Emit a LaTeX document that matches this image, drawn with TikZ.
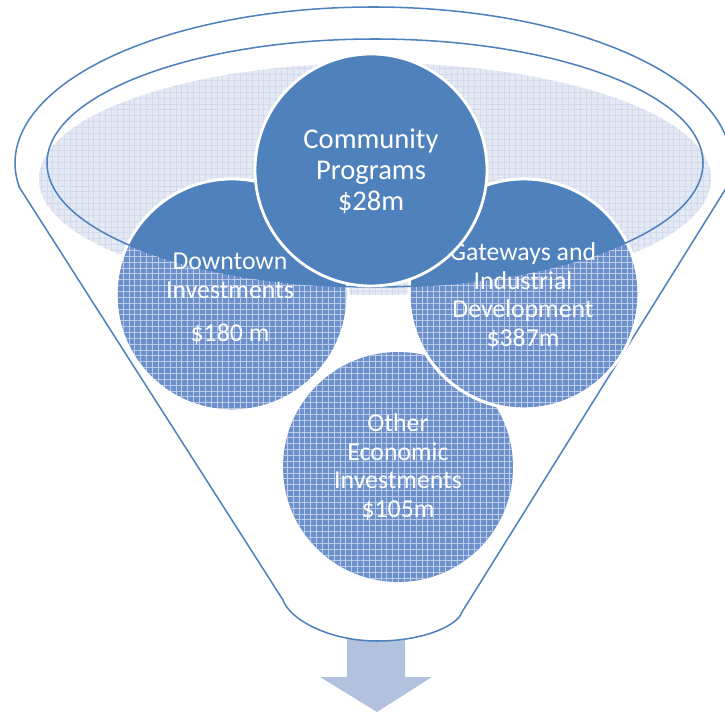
\documentclass[tikz,border=0pt]{standalone}
\usepackage{fontspec}
\setmainfont{Carlito}
\usetikzlibrary{patterns.meta}
\definecolor{frameblue}{RGB}{79,129,189}
\definecolor{darkblue}{RGB}{79,129,189}
\definecolor{meshbase}{RGB}{108,144,204}
\definecolor{washbase}{RGB}{228,233,244}
\definecolor{washline}{RGB}{210,219,237}
\definecolor{arrowblue}{RGB}{178,194,222}

\begin{document}
\begin{tikzpicture}[x=0.03cm, y=-0.03cm,
    rim/.style={draw=frameblue, line width=1.3pt},
    wash/.style={preaction={fill=washbase},
      pattern={Hatch[angle=0,distance=5pt,line width=0.4pt]}, pattern color=washline},
    mesh/.style={preaction={fill=meshbase},
      pattern={Hatch[angle=0,distance=5pt,line width=0.4pt]}, pattern color=white!55!meshbase},
    whiterim/.style={draw=white, line width=2.4pt},
    txt/.style={text=white, align=center, font=\fontsize{22}{24.7}\selectfont}
    ]
\useasboundingbox (0,0) rectangle (725,713);

% arrow out of the funnel
\fill[arrowblue] (347,630) -- (405,630) -- (405,677) -- (432,677) -- (377,712)
  -- (320,677) -- (347,677) -- cycle;

% funnel
\path[rim, fill=white] (19.4,187.4) -- (283,600)
  .. controls (290,620) and (330,641) .. (377,641)
  .. controls (425,641) and (458,625) .. (462,612)
  -- (726.6,187.4) arc[start angle=9, end angle=-189, x radius=358, y radius=156]
  -- cycle;
\fill[wash] (375,179) ellipse[x radius=336, y radius=116];

% lower circles
\fill[mesh] (398,467) circle[radius=115];
\path[mesh, whiterim] (232,295) circle[radius=116];
\path[mesh, whiterim] (524,294) circle[radius=115];
\begin{scope}
  \clip (375,163) ellipse[x radius=328, y radius=124];
  \fill[darkblue] (232,295) circle[radius=116];
  \fill[darkblue] (524,294) circle[radius=115];
\end{scope}
\draw[whiterim] (232,295) circle[radius=116];
\draw[whiterim] (524,294) circle[radius=115];
\draw[rim] (375,163) ellipse[x radius=328, y radius=124];

\node[txt] (D) at (230,299) {Downtown\\Investments\\[12pt]\$180 m};
\node[txt] (G) at (523,296) {Gateways and\\Industrial\\Development\\\$387m};
\node[txt] (O) at (398,467) {Other\\Economic\\Investments\\\$105m};

% top circle
\path[fill=darkblue, whiterim] (371,170) circle[radius=116];
\node[txt, font=\fontsize{24.4}{26.5}\selectfont] (C) at (371,171) {Community\\Programs\\\$28m};
\end{tikzpicture}
\end{document}
